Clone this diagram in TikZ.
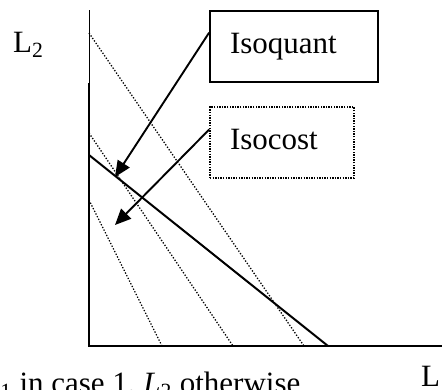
\documentclass[tikz,border=0pt]{standalone}
\usepackage{fontspec}
\setmainfont{Liberation Serif}
\usetikzlibrary{arrows.meta,calc}
\begin{document}
\begin{tikzpicture}[x=1pt,y=-1pt,
  lbl/.style={inner sep=0pt,anchor=base west,font=\fontsize{31}{36}\selectfont},
  boxnode/.style={line width=1.8pt,inner xsep=20pt,inner ysep=0pt,text height=21pt,text depth=7pt,
    minimum height=71pt,align=left,font=\fontsize{31}{36}\selectfont},
  axis/.style={line width=2pt},
  isoq/.style={line width=1.3pt,dash pattern=on 1.3pt off 1.7pt},
  isoc/.style={line width=2pt},
  pointer/.style={line width=1.9pt,-{Triangle[length=16pt,width=14pt]}}]
\useasboundingbox (0,0) rectangle (442,389);
% axes
\coordinate (top) at (89,10);
\coordinate (mid) at (89,83);
\coordinate (O) at (89,346);
\coordinate (xend) at (442,346);
\draw[line width=1pt] (top) -- (mid);
\draw[axis] (mid) -- (O) -- (xend);
% isoquants (dotted)
\coordinate (a1) at (89,33);  \coordinate (a2) at (304,346);
\coordinate (b1) at (89,133); \coordinate (b2) at (233,346);
\coordinate (c1) at (89,200); \coordinate (c2) at (162,346);
\draw[isoq] (a1) -- (a2);
\draw[isoq] (b1) -- (b2);
\draw[isoq] (c1) -- (c2);
% isocost (solid)
\coordinate (k1) at (89,155); \coordinate (k2) at (328,346);
\draw[isoc] (k1) -- (k2);
% boxes
\node[boxnode,draw,text width=128pt] (isoquant) at (294,46.5) {Isoquant};
\node[boxnode,draw,dash pattern=on 1.4pt off 1.2pt,line width=1.5pt,text width=104pt] (isocost) at (282,142.5) {Isocost};
% arrows
\coordinate (t1) at (115,177);
\coordinate (t2) at (115,225);
\draw[pointer] ($(isoquant.north west)!0.31!(isoquant.south west)$) -- (t1);
\draw[pointer] ($(isocost.north west)!0.32!(isocost.south west)$) -- (t2);
% labels
\node[lbl] (ylab) at (13,52) {L\textsubscript{2}};
\node[lbl] (xlab) at (421,386) {L};
\node[lbl] (note) at (-17,393) {\textit{L}\textsubscript{1} in case 1, \textit{L}\textsubscript{2} otherwise};
\end{tikzpicture}
\end{document}
